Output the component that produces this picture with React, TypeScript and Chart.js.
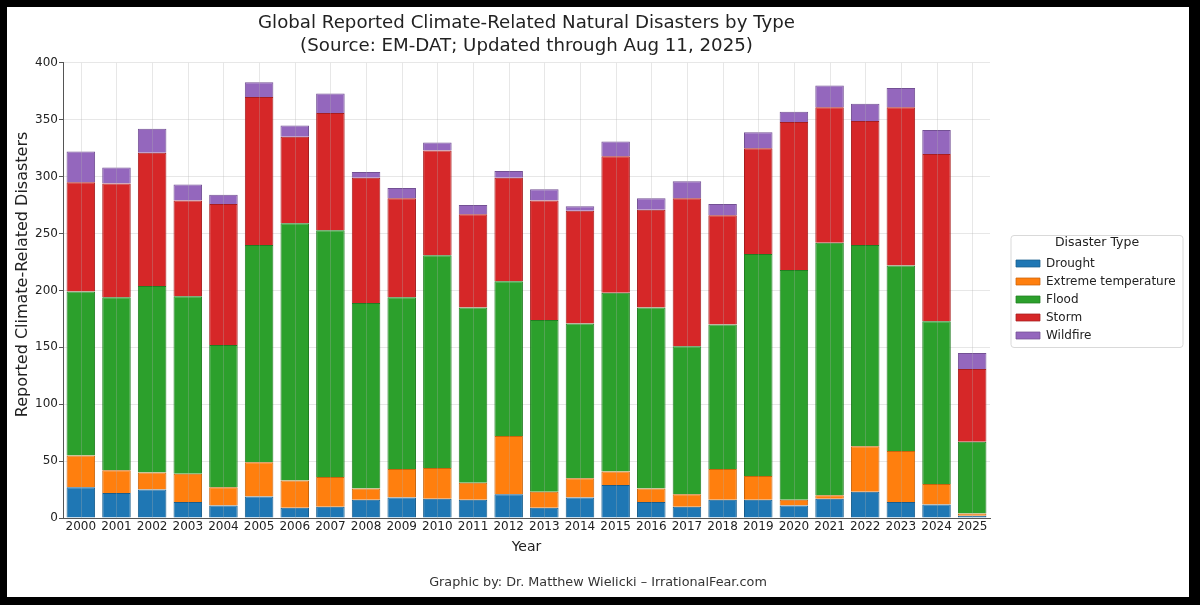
import React, { useEffect, useRef } from "react";
import { Chart, registerables } from "chart.js";

Chart.register(...registerables);

const years = [
  "2000", "2001", "2002", "2003", "2004", "2005", "2006", "2007", "2008", "2009",
  "2010", "2011", "2012", "2013", "2014", "2015", "2016", "2017", "2018", "2019",
  "2020", "2021", "2022", "2023", "2024", "2025",
];
const drought = [27, 22, 25, 14, 11, 19, 9, 10, 16, 18, 17, 16, 21, 9, 18, 29, 14, 10, 16, 16, 11, 17, 23, 14, 12, 2];
const extremeTemperature = [28, 20, 15, 25, 16, 30, 24, 26, 10, 25, 27, 15, 51, 14, 17, 12, 12, 11, 27, 21, 5, 3, 40, 45, 18, 2];
const flood = [144, 152, 164, 156, 125, 191, 226, 217, 163, 151, 187, 154, 136, 151, 136, 157, 159, 130, 127, 195, 202, 222, 177, 163, 143, 63];
const storm = [96, 100, 117, 84, 124, 130, 76, 103, 110, 87, 92, 82, 91, 105, 99, 120, 86, 130, 96, 93, 130, 119, 109, 139, 147, 64];
const wildfire = [27, 14, 21, 14, 8, 13, 10, 17, 5, 9, 7, 8, 6, 10, 4, 13, 10, 15, 10, 14, 9, 19, 15, 17, 21, 14];

const seriesLabels = ["Drought", "Extreme temperature", "Flood", "Storm", "Wildfire"];
const seriesColors = ["#1f77b4", "#ff7f0e", "#2ca02c", "#d62728", "#9467bd"];
const seriesEdges = ["#185d8c", "#c9640b", "#227d22", "#a71e1f", "#735094"];
const yTicks = [0, 50, 100, 150, 200, 250, 300, 350, 400];

const titleLines = [
  "Global Reported Climate-Related Natural Disasters by Type",
  "(Source: EM-DAT; Updated through Aug 11, 2025)",
];
const footerText = "Graphic by: Dr. Matthew Wielicki \u2013 IrrationalFear.com";

const FONT = "'DejaVu Sans', 'Noto Sans', sans-serif";

export default function App() {
  const ref = useRef<HTMLCanvasElement | null>(null);

  useEffect(() => {
    document.body.style.margin = "0";
    const canvas = ref.current;
    if (!canvas) return;
    const seriesData = [drought, extremeTemperature, flood, storm, wildfire];

    const overlayPlugin = {
      id: "overlay",
      afterLayout(chart: any) {
        const lg = chart.legend;
        if (lg) {
          const dx = 1003 - lg.left;
          lg.left += dx;
          lg.right += dx;
          lg.top -= 13;
          lg.bottom -= 13;
        }
        // centre the footer on the whole canvas
        for (const box of chart.boxes) {
          if (box && box.options && box.options.text === footerText) {
            const target = chart.width / 2;
            const cur = (box.left + box.right) / 2;
            const d = target - cur;
            box.left += d;
            box.right += d;
          }
        }
        const ys = chart.scales.y;
        if (ys && !ys.__patched) {
          const orig = ys.drawTitle;
          ys.drawTitle = function (...args: any[]) {
            const ctx = this.ctx;
            ctx.save();
            ctx.translate(0, -16);
            orig.apply(this, args);
            ctx.restore();
          };
          ys.__patched = true;
        }
      },
      beforeDraw(chart: any) {
        const lg = chart.legend;
        if (!lg || !lg.legendHitBoxes || !lg.legendHitBoxes.length) return;
        const hb = lg.legendHitBoxes;
        const first = hb[0].top + hb[0].height / 2;
        const last = hb[hb.length - 1].top + hb[hb.length - 1].height / 2;
        const ctx = chart.ctx;
        const x0 = lg.left + 1;
        const x1 = lg.right - 1;
        const y0 = first - 28;
        const y1 = last + 12;
        ctx.save();
        ctx.fillStyle = "#ffffff";
        ctx.strokeStyle = "#d9d9d9";
        ctx.lineWidth = 1;
        const r = 3;
        ctx.beginPath();
        ctx.moveTo(x0 + r, y0);
        ctx.lineTo(x1 - r, y0);
        ctx.quadraticCurveTo(x1, y0, x1, y0 + r);
        ctx.lineTo(x1, y1 - r);
        ctx.quadraticCurveTo(x1, y1, x1 - r, y1);
        ctx.lineTo(x0 + r, y1);
        ctx.quadraticCurveTo(x0, y1, x0, y1 - r);
        ctx.lineTo(x0, y0 + r);
        ctx.quadraticCurveTo(x0, y0, x0 + r, y0);
        ctx.closePath();
        ctx.fill();
        ctx.stroke();
        ctx.restore();
      },
      afterDatasetsDraw(chart: any) {
        const xs = chart.scales.x;
        const area = chart.chartArea;
        const ctx = chart.ctx;
        ctx.save();
        ctx.strokeStyle = "rgba(176,176,176,0.3)";
        ctx.lineWidth = 1;
        for (let i = 0; i < years.length; i++) {
          const x = Math.round(xs.getPixelForTick(i)) + 0.5;
          ctx.beginPath();
          ctx.moveTo(x, area.top);
          ctx.lineTo(x, area.bottom);
          ctx.stroke();
        }
        ctx.restore();
      },
    };

    const chart = new Chart(canvas, {
      type: "bar",
      data: {
        labels: years,
        datasets: seriesLabels.map((label, i) => ({
          label,
          data: seriesData[i],
          backgroundColor: seriesColors[i],
          borderColor: seriesEdges[i],
          borderWidth: { left: 1, right: 1, top: 1, bottom: 0 },
          borderSkipped: false as any,
          categoryPercentage: 0.8,
          barPercentage: 1.0,
        })),
      },
      options: {
        animation: false,
        responsive: false,
        devicePixelRatio: 1,
        layout: { padding: { left: 0, right: 25, top: 0, bottom: 0 } },
        font: { family: FONT },
        plugins: {
          title: {
            display: true,
            text: titleLines,
            fullSize: false,
            color: "#222",
            font: { family: FONT, size: 18.2, weight: "normal", lineHeight: 1.26 },
            padding: { top: 4.5, bottom: 5.5 },
          },
          subtitle: {
            display: true,
            position: "bottom",
            text: footerText,
            color: "#333",
            font: { family: FONT, size: 12.8, weight: "normal", lineHeight: 1.2 },
            padding: { top: 17.3, bottom: 6.3 },
          },
          legend: {
            display: true,
            position: "right",
            align: "center",
            maxWidth: 174,
            title: {
              display: true,
              text: "Disaster Type",
              color: "#222",
              font: { family: FONT, size: 12.5, lineHeight: 1.2 },
              padding: { top: 6, bottom: 0 },
            },
            labels: {
              boxWidth: 24,
              boxHeight: 7,
              padding: 6,
              color: "#222",
              font: { family: FONT, size: 12 },
            },
          },
          tooltip: { enabled: false },
        },
        scales: {
          x: {
            stacked: true,
            offset: true,
            grid: { display: true, drawOnChartArea: false, drawTicks: false },
            border: { display: true, color: "#555", width: 1 },
            ticks: {
              color: "#222",
              font: { family: FONT, size: 12 },
              padding: 1.5,
              maxRotation: 0,
              autoSkip: false,
            },
            title: {
              display: true,
              text: "Year",
              color: "#222",
              font: { family: FONT, size: 14, lineHeight: 1.2 },
              padding: { top: 0, bottom: 2.1 },
            },
            afterFit: (scale: any) => {
              scale.height = 40;
            },
          },
          y: {
            stacked: true,
            min: 0,
            max: 400,
            afterBuildTicks: (scale: any) => {
              scale.ticks = yTicks.map((v) => ({ value: v }));
            },
            grid: {
              color: "rgba(176,176,176,0.3)",
              tickColor: "#555",
              tickLength: 4,
              lineWidth: 1,
            },
            border: { display: true, color: "#555", width: 1 },
            ticks: {
              color: "#222",
              font: { family: FONT, size: 12 },
              padding: 1,
            },
            title: {
              display: true,
              text: "Reported Climate-Related Disasters",
              color: "#222",
              font: { family: FONT, size: 16, lineHeight: 1.2 },
              padding: { top: 6.5, bottom: 0 },
            },
            afterFit: (scale: any) => {
              scale.width = 56;
            },
          },
        },
      },
      plugins: [overlayPlugin],
    } as any);

    return () => chart.destroy();
  }, []);

  return (
    <div style={{ position: "relative", width: 1200, height: 605, background: "#000" }}>
      <div style={{ position: "absolute", left: 7, top: 7, width: 1182, height: 590, background: "#fff" }}>
        <canvas ref={ref} width={1182} height={590} style={{ display: "block", width: 1182, height: 590 }} />
      </div>
    </div>
  );
}
